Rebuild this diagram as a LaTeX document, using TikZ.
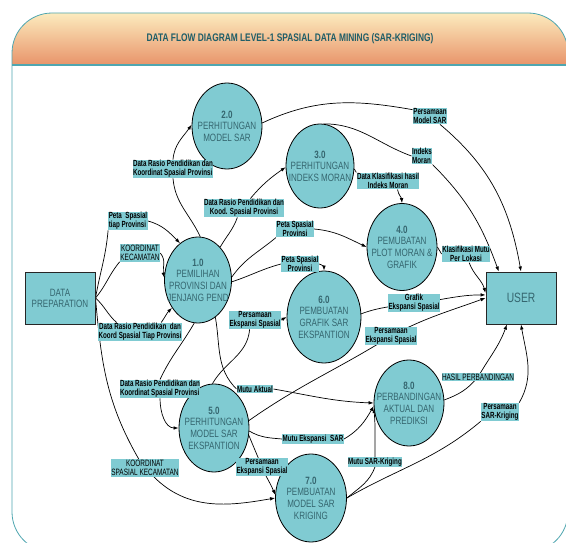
\documentclass[tikz,border=0pt]{standalone}
\usepackage{fontspec}
\setmainfont{Liberation Sans}
\newfontfamily\bubblefont[FakeStretch=0.76]{Liberation Sans}
\newfontfamily\flowfont[FakeStretch=0.7]{Liberation Sans}
\usepackage{xcolor}
\usetikzlibrary{shapes.geometric,arrows.meta}

\definecolor{bubble}{HTML}{80CBD2}
\definecolor{bubbletext}{HTML}{35666F}
\definecolor{framecol}{HTML}{4FA6B0}
\definecolor{titlecol}{HTML}{1F5E68}
\definecolor{headtop}{HTML}{FCEBBE}
\definecolor{headbot}{HTML}{E8946A}

\pgfdeclarelayer{frame}
\pgfdeclarelayer{lines}
\pgfsetlayers{frame,lines,main}

\tikzset{
  prc/.style={ellipse, draw=black, line width=0.8pt, fill=bubble, inner sep=0pt},
  ptxt/.style={text=bubbletext, align=center, inner sep=0pt, font=\bubblefont\fontsize{10.6}{11.6}\selectfont},
  ent/.style={rectangle, draw=black!85, line width=1pt, fill=bubble, text=bubbletext, minimum width=70pt, minimum height=52pt, align=center, font=\bubblefont\fontsize{10.6}{11}\selectfont},
  lbl/.style={fill=bubble, inner sep=0.5pt, align=center, font=\flowfont\bfseries\fontsize{8.9}{9.2}\selectfont},
  lbln/.style={lbl, font=\flowfont\fontsize{9.2}{9.6}\selectfont},
  flw/.style={line width=0.7pt, -{Latex[length=5pt,width=3.6pt]}},
  nofl/.style={line width=0.7pt}
}

\begin{document}
\begin{tikzpicture}[x=1pt,y=-1pt]
\path[use as bounding box] (0,0) rectangle (566,543);

\node[font=\bubblefont\bfseries\fontsize{11}{12}\selectfont, text=titlecol] (title) at (290,39) {DATA FLOW DIAGRAM LEVEL-1 SPASIAL DATA MINING (SAR-KRIGING)};

\node[ent] (dp) at (60,298) {DATA\\PREPARATION};
\node[ent, font=\bubblefont\fontsize{13.5}{14}\selectfont] (user) at (521,298) {USER};

\node[prc, minimum width=67pt, minimum height=86pt, label={[ptxt]center:{\textbf{1.0}\\PEMILIHAN\\PROVINSI DAN\\JENJANG PEND}}] (p1) at (198,280) {};
\node[prc, minimum width=70pt, minimum height=86pt, label={[ptxt]center:{\textbf{2.0}\\PERHITUNGAN\\MODEL SAR}}] (p2) at (227,126) {};
\node[prc, minimum width=68pt, minimum height=84pt, label={[ptxt]center:{\textbf{3.0}\\PERHITUNGAN\\INDEKS MORAN}}] (p3) at (320,166) {};
\node[prc, minimum width=70pt, minimum height=87pt, label={[ptxt]center:{\textbf{4.0}\\PEMUBATAN\\PLOT MORAN \&\\GRAFIK}}] (p4) at (402,247) {};
\node[prc, minimum width=70pt, minimum height=88pt, label={[ptxt]center:{\textbf{5.0}\\PERHITUNGAN\\MODEL SAR\\EKSPANTION}}] (p5) at (214,428) {};
\node[prc, minimum width=74pt, minimum height=92pt, label={[ptxt]center:{\textbf{6.0}\\PEMBUATAN\\GRAFIK SAR\\EKSPANTION}}] (p6) at (324,317) {};
\node[prc, minimum width=71pt, minimum height=88pt, label={[ptxt]center:{\textbf{7.0}\\PEMBUATAN\\MODEL SAR\\KRIGING}}] (p7) at (311,498) {};
\node[prc, minimum width=70pt, minimum height=86pt, label={[ptxt]center:{\textbf{8.0}\\PERBANDINGAN\\AKTUAL DAN\\PREDIKSI}}] (p8) at (409,403) {};

\node[lbl, align=left] (l1) at (128,221) {Peta\ \ Spasial\\tiap Provinsi};
\node[lbln] (l2) at (140,253) {KOORDINAT\\KECAMATAN};
\node[lbl] (l3) at (140,332) {Data Rasio Pendidikan\ \ dan\\Koord Spasial Tiap Provinsi};
\node[lbln] (l4) at (145,468) {KOORDINAT\\SPASIAL KECAMATAN};
\node[lbl, align=left] (l5) at (173,169) {Data Rasio Pendidikan dan\\Koordinat Spasial Provinsi};
\node[lbl] (l6) at (244,208) {Data Rasio Pendidikan dan\\Kood. Spasial Provinsi};
\node[lbl] (l7) at (295,229) {Peta Spasial\\Provinsi};
\node[lbl] (l8) at (300,264) {Peta Spasial\\Provinsi};
\node[lbl] (l9) at (255,320) {Persamaan\\Ekspansi Spasial};
\node[lbl, align=left] (l10) at (160,389) {Data Rasio Pendidikan dan\\Koordinat Spasial Provinsi};
\node[lbl] (l11) at (255,389) {Mutu Aktual};
\node[lbl] (l12) at (313,439) {Mutu Ekspansi\ \ SAR};
\node[lbl] (l13) at (391,336) {Persamaan\\Ekspansi Spasial};
\node[lbl] (l14) at (414,303) {Grafik\\Ekspansi Spasial};
\node[lbl] (l15) at (466,254) {Klasifikasi Mutu\\Per Lokasi};
\node[lbl] (l16) at (388,181) {Data Klasifikasi hasil\\Indeks Moran};
\node[lbl, align=left] (l17) at (430,116) {Persamaan\\Model SAR};
\node[lbl, align=left] (l18) at (422,156) {Indeks\\Moran};
\node[lbln] (l19) at (478,377) {HASIL PERBANDINGAN};
\node[lbl] (l20) at (500,412) {Persamaan\\SAR-Kriging};
\node[lbl] (l21) at (375,462) {Mutu SAR-Kriging};
\node[lbl] (l22) at (262,467) {Persamaan\\Ekspansi Spasial};

\begin{pgfonlayer}{lines}
\draw[flw] (dp.east) to[out=80,in=-95] (l1.south west) (l1.east) to[out=-15,in=135] (p1.116);
\draw[flw] (dp.east) to[out=50,in=-130] (l2.south west) (l2.east) to[out=-50,in=100] (p1.176);
\draw[flw] (dp.east) to[out=-42,in=138] (l3.158) (l3.24) to[out=55,in=225] (p1.227);
\draw[flw] (dp.east) to[out=-85,in=120] (l4.125) (l4.-45) to[out=-45,in=190] (p7.west);
\draw[flw] (p1.87) to[out=115,in=-85] (l5.south) (l5.north) to[out=85,in=235] (p2.178);
\draw[flw] (p1.56) to[out=60,in=-110] (l6.-125) (l6.56) to[out=50,in=215] (p3.182);
\draw[flw] (p1.5) to[out=55,in=-140] (l7.south west) (l7.east) to[out=-5,in=155] (p4.west);
\draw[flw] (p1.-3) to[out=18,in=195] (l8.west) (l8.east) to[out=-10,in=90] (p6.north);
\draw[flw] (p5.92) to[out=60,in=-95] (l9.-120) (l9.east) -- (p6.west);
\draw[flw] (p1.-95) to[out=-120,in=65] (l10.north) (l10.south) to[out=-90,in=180] (p5.west);
\draw[flw] (p1.-65) to[out=-80,in=135] (l11.west) (l11.east) to[out=-10,in=178] (p8.west);
\draw[flw] (p5.-5) to[out=-30,in=175] (l12.west) (l12.east) to[out=30,in=240] (p8.185);
\draw[flw] (p5.12) to[out=35,in=212] (l13.center) to[out=28,in=200] (user.west);
\draw[flw] (p6.5) to[out=20,in=190] (l14.center) to[out=5,in=180] (user.175);
\draw[flw] (p4.east) -- (l15.west) (l15.-70) to[out=-70,in=105] (user.172);
\draw[flw] (p3.-5) to[out=-20,in=160] (l16.north west) (l16.-42) to[out=-80,in=95] (p4.north);
\draw[flw] (p2.5) to[out=25,in=170] (l17.160) (l17.-40) to[out=-40,in=100] (user.north);
\draw[flw] (p3.85) to[out=0,in=160] (l18.west) (l18.south east) to[out=-45,in=110] (user.130);
\draw[flw] (p8.5) to[out=20,in=-130] (l19.center) to[out=60,in=-110] (user.-118);
\draw[flw] (p7.east) to[out=30,in=-140] (l20.south west) (l20.north east) to[out=60,in=-80] (user.south);
\draw[flw] (p7.east) to[out=40,in=-110] (l21.south) (l21.north) to[out=90,in=-85] (p8.188);
\draw[flw] (p5.-12) to[out=-68,in=112] (l22.center) to[out=-68,in=112] (p7.175);
\end{pgfonlayer}

\begin{pgfonlayer}{frame}
\begin{scope}
\clip (0,0) rectangle (566,543);
\fill[white] (0,0) rectangle (566,543);
\begin{scope}
\clip[rounded corners=40pt] (12,13) rectangle (568,552);
\shade[top color=headtop, bottom color=headbot] (12,13) rectangle (568,65);
\end{scope}
\draw[framecol, line width=0.8pt, rounded corners=40pt] (12,13) rectangle (568,552);
\draw[framecol, line width=1.4pt] (12,65) -- (568,65);
\end{scope}
\end{pgfonlayer}
\end{tikzpicture}
\end{document}
